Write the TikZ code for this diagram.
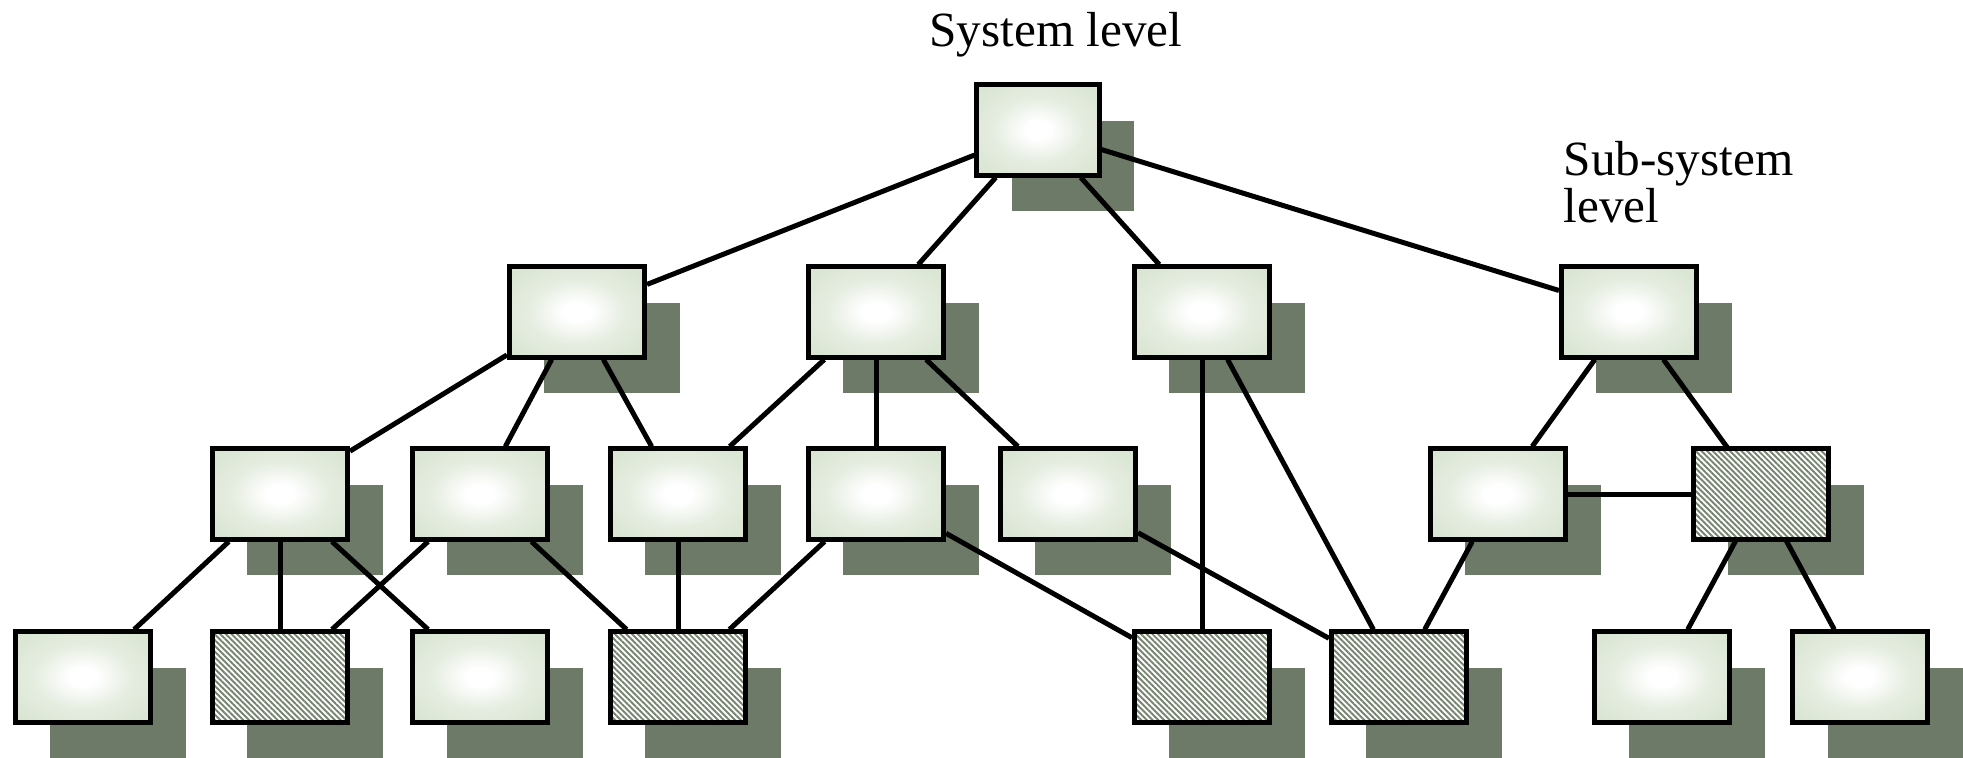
\documentclass[tikz,border=0pt]{standalone}
\usepackage{fontspec}
\setmainfont{Liberation Serif}
\usetikzlibrary{shadows, patterns.meta}

\definecolor{boxgreen}{RGB}{208,222,199}
\colorlet{boxmid}{boxgreen!55!white}
\definecolor{shadegreen}{RGB}{110,122,104}
\definecolor{stripegreen}{RGB}{118,132,112}
\pgfdeclareradialshading{boxglow}{\pgfpoint{0bp}{0bp}}{color(0bp)=(white); color(5bp)=(white); color(18bp)=(boxmid); color(44bp)=(boxgreen); color(50bp)=(boxgreen)}

\begin{document}
\begin{tikzpicture}[x=0.01cm, y=-0.01cm,
    unit/.style={draw, line width=0.05cm, inner sep=0pt, minimum width=1.35cm, minimum height=0.9cm,
      drop shadow={shadow xshift=0.35cm, shadow yshift=-0.36cm, fill=shadegreen, opacity=1}},
    plain/.style={unit, shading=boxglow},
    hatched/.style={unit, preaction={fill=white},
      pattern={Lines[angle=-45, distance=1.15pt, line width=0.55pt]}, pattern color=stripegreen},
    link/.style={line width=0.05cm}]

    \useasboundingbox (0,0) rectangle (1963,757);

    \node[font=\fontsize{14}{17}\selectfont, anchor=base] (label1) at (1056,46) {System level};
    \node[font=\fontsize{14}{13.4}\selectfont, align=left,
      anchor=north west, inner sep=0pt] (label2) at (1563,141) {Sub-system\\level};

    \node[plain, minimum width=1.22cm] (t1) at (1038,130) {};

    \node[plain] (a1) at (577,312) {};
    \node[plain] (a2) at (876,312) {};
    \node[plain] (a3) at (1202,312) {};
    \node[plain] (a4) at (1629,312) {};

    \node[plain] (b1) at (280,494) {};
    \node[plain] (b2) at (480,494) {};
    \node[plain] (b3) at (678,494) {};
    \node[plain] (b4) at (876,494) {};
    \node[plain] (b5) at (1068,494) {};
    \node[plain] (b6) at (1498,494) {};
    \node[hatched] (b7) at (1761,494) {};

    \node[plain] (c1) at (83,677) {};
    \node[hatched] (c2) at (280,677) {};
    \node[plain] (c3) at (480,677) {};
    \node[hatched] (c4) at (678,677) {};
    \node[hatched] (c5) at (1202,677) {};
    \node[hatched] (c6) at (1399,677) {};
    \node[plain] (c7) at (1662,677) {};
    \node[plain] (c8) at (1860,677) {};

    \draw[link] (t1) -- (a1);
    \draw[link] (t1) -- (a2);
    \draw[link] (t1) -- (a3);
    \draw[link] (t1) -- (a4);

    \draw[link] (a1) -- (b1);
    \draw[link] (a1) -- (b2);
    \draw[link] (a1) -- (b3);
    \draw[link] (a2) -- (b3);
    \draw[link] (a2) -- (b4);
    \draw[link] (a2) -- (b5);
    \draw[link] (a3) -- (c5);
    \draw[link] (a3) -- (c6);
    \draw[link] (a4) -- (b6);
    \draw[link] (a4) -- (b7);

    \draw[link] (b1) -- (c1);
    \draw[link] (b1) -- (c2);
    \draw[link] (b1) -- (c3);
    \draw[link] (b2) -- (c2);
    \draw[link] (b2) -- (c4);
    \draw[link] (b3) -- (c4);
    \draw[link] (b4) -- (c4);
    \draw[link] (b4) -- (c5);
    \draw[link] (b5) -- (c6);
    \draw[link] (b6) -- (b7);
    \draw[link] (b6) -- (c6);
    \draw[link] (b7) -- (c7);
    \draw[link] (b7) -- (c8);
  \end{tikzpicture}
\end{document}
